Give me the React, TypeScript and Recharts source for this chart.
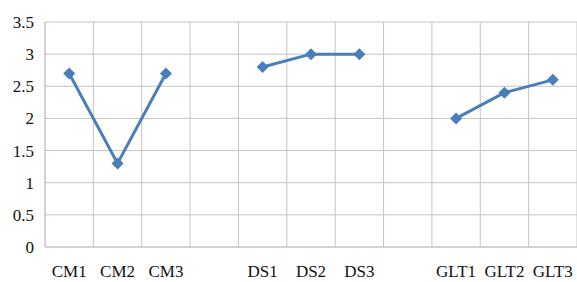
import { LineChart, Line, XAxis, YAxis, CartesianGrid } from 'recharts';

const categories = ['CM1', 'CM2', 'CM3', '', 'DS1', 'DS2', 'DS3', ' ', 'GLT1', 'GLT2', 'GLT3'];
const values: (number | null)[] = [2.7, 1.3, 2.7, null, 2.8, 3.0, 3.0, null, 2.0, 2.4, 2.6];
const yTicks = [0, 0.5, 1, 1.5, 2, 2.5, 3, 3.5];

const data = categories.map((name, i) => ({ name, value: values[i] }));

const LINE_COLOR = '#4a7ebb';
const GRID_COLOR = '#c4c4c4';
const FONT = '"Liberation Serif", "Times New Roman", serif';

const Diamond = (props: any) => {
  const { cx, cy, value } = props;
  if (value == null || cx == null || cy == null) return null;
  const r = 6;
  return (
    <polygon
      key={`d-${cx}`}
      points={`${cx},${cy - r} ${cx + r},${cy} ${cx},${cy + r} ${cx - r},${cy}`}
      fill={LINE_COLOR}
    />
  );
};

// grid lines sit on the category boundaries, not on the tick centres
const bandLines = ({ offset }: any) => {
  const n = categories.length;
  const step = offset.width / n;
  return Array.from({ length: n + 1 }, (_, i) => offset.left + i * step);
};

export default function App() {
  return (
    <div style={{ position: 'absolute', left: 0, top: 0, background: '#fff' }}>
      <LineChart width={577} height={282} data={data} margin={{ top: 22, right: 0, bottom: 0, left: 0 }}>
        <CartesianGrid stroke={GRID_COLOR} strokeWidth={1} verticalCoordinatesGenerator={bandLines} />
        <XAxis
          dataKey="name"
          scale="band"
          interval={0}
          height={35}
          tickSize={0}
          tickMargin={18}
          axisLine={{ stroke: GRID_COLOR }}
          tickLine={false}
          tick={{ fill: '#111', fontSize: 17, fontFamily: FONT }}
        />
        <YAxis
          domain={[0, 3.5]}
          ticks={yTicks}
          width={45}
          tickSize={0}
          tickMargin={11}
          axisLine={{ stroke: GRID_COLOR }}
          tickLine={false}
          tick={{ fill: '#111', fontSize: 17, fontFamily: FONT }}
        />
        <Line
          dataKey="value"
          stroke={LINE_COLOR}
          strokeWidth={3}
          dot={<Diamond />}
          activeDot={false}
          connectNulls={false}
          isAnimationActive={false}
        />
      </LineChart>
    </div>
  );
}
